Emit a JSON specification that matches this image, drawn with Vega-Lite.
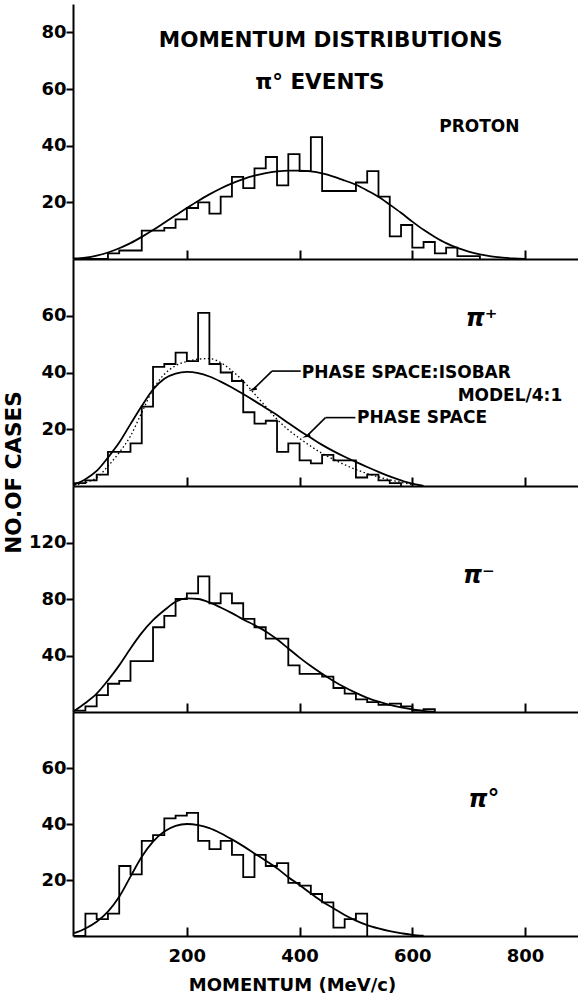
{
  "$schema": "https://vega.github.io/schema/vega-lite/v6.json",
  "padding": {"left": 3, "top": 4, "right": 0, "bottom": 0},
  "spacing": 0,
  "bounds": "flush",
  "datasets": {
    "hist": [
      {"panel": "proton", "p": 0, "n": 0}, {"panel": "proton", "p": 20, "n": 0}, {"panel": "proton", "p": 40, "n": 0},
      {"panel": "proton", "p": 60, "n": 2}, {"panel": "proton", "p": 80, "n": 3}, {"panel": "proton", "p": 100, "n": 3},
      {"panel": "proton", "p": 120, "n": 10}, {"panel": "proton", "p": 140, "n": 10}, {"panel": "proton", "p": 160, "n": 11},
      {"panel": "proton", "p": 180, "n": 14}, {"panel": "proton", "p": 200, "n": 18}, {"panel": "proton", "p": 220, "n": 20},
      {"panel": "proton", "p": 240, "n": 16}, {"panel": "proton", "p": 260, "n": 22}, {"panel": "proton", "p": 280, "n": 29},
      {"panel": "proton", "p": 300, "n": 25}, {"panel": "proton", "p": 320, "n": 32}, {"panel": "proton", "p": 340, "n": 36},
      {"panel": "proton", "p": 360, "n": 26}, {"panel": "proton", "p": 380, "n": 37}, {"panel": "proton", "p": 400, "n": 31},
      {"panel": "proton", "p": 420, "n": 43}, {"panel": "proton", "p": 440, "n": 24}, {"panel": "proton", "p": 460, "n": 24},
      {"panel": "proton", "p": 480, "n": 24}, {"panel": "proton", "p": 500, "n": 27}, {"panel": "proton", "p": 520, "n": 31},
      {"panel": "proton", "p": 540, "n": 22}, {"panel": "proton", "p": 560, "n": 8}, {"panel": "proton", "p": 580, "n": 12},
      {"panel": "proton", "p": 600, "n": 4}, {"panel": "proton", "p": 620, "n": 6}, {"panel": "proton", "p": 640, "n": 2},
      {"panel": "proton", "p": 660, "n": 4}, {"panel": "proton", "p": 680, "n": 1}, {"panel": "proton", "p": 700, "n": 1},
      {"panel": "proton", "p": 720, "n": 0},

      {"panel": "piplus", "p": 0, "n": 1}, {"panel": "piplus", "p": 20, "n": 2}, {"panel": "piplus", "p": 40, "n": 4},
      {"panel": "piplus", "p": 60, "n": 12}, {"panel": "piplus", "p": 80, "n": 12}, {"panel": "piplus", "p": 100, "n": 15},
      {"panel": "piplus", "p": 120, "n": 28}, {"panel": "piplus", "p": 140, "n": 42}, {"panel": "piplus", "p": 160, "n": 43},
      {"panel": "piplus", "p": 180, "n": 47}, {"panel": "piplus", "p": 200, "n": 44}, {"panel": "piplus", "p": 220, "n": 61},
      {"panel": "piplus", "p": 240, "n": 43}, {"panel": "piplus", "p": 260, "n": 40}, {"panel": "piplus", "p": 280, "n": 37},
      {"panel": "piplus", "p": 300, "n": 26}, {"panel": "piplus", "p": 320, "n": 22}, {"panel": "piplus", "p": 340, "n": 23},
      {"panel": "piplus", "p": 360, "n": 12}, {"panel": "piplus", "p": 380, "n": 15}, {"panel": "piplus", "p": 400, "n": 9},
      {"panel": "piplus", "p": 420, "n": 8}, {"panel": "piplus", "p": 440, "n": 11}, {"panel": "piplus", "p": 460, "n": 9},
      {"panel": "piplus", "p": 480, "n": 9}, {"panel": "piplus", "p": 500, "n": 3}, {"panel": "piplus", "p": 520, "n": 4},
      {"panel": "piplus", "p": 540, "n": 2}, {"panel": "piplus", "p": 560, "n": 1}, {"panel": "piplus", "p": 580, "n": 0},

      {"panel": "piminus", "p": 0, "n": 1}, {"panel": "piminus", "p": 20, "n": 4}, {"panel": "piminus", "p": 40, "n": 12},
      {"panel": "piminus", "p": 60, "n": 20}, {"panel": "piminus", "p": 80, "n": 22}, {"panel": "piminus", "p": 100, "n": 36},
      {"panel": "piminus", "p": 120, "n": 36}, {"panel": "piminus", "p": 140, "n": 60}, {"panel": "piminus", "p": 160, "n": 68},
      {"panel": "piminus", "p": 180, "n": 80}, {"panel": "piminus", "p": 200, "n": 84}, {"panel": "piminus", "p": 220, "n": 96},
      {"panel": "piminus", "p": 240, "n": 77}, {"panel": "piminus", "p": 260, "n": 84}, {"panel": "piminus", "p": 280, "n": 77},
      {"panel": "piminus", "p": 300, "n": 66}, {"panel": "piminus", "p": 320, "n": 60}, {"panel": "piminus", "p": 340, "n": 52},
      {"panel": "piminus", "p": 360, "n": 52}, {"panel": "piminus", "p": 380, "n": 33}, {"panel": "piminus", "p": 400, "n": 27},
      {"panel": "piminus", "p": 420, "n": 27}, {"panel": "piminus", "p": 440, "n": 25}, {"panel": "piminus", "p": 460, "n": 17},
      {"panel": "piminus", "p": 480, "n": 13}, {"panel": "piminus", "p": 500, "n": 9}, {"panel": "piminus", "p": 520, "n": 7},
      {"panel": "piminus", "p": 540, "n": 5}, {"panel": "piminus", "p": 560, "n": 6}, {"panel": "piminus", "p": 580, "n": 4},
      {"panel": "piminus", "p": 600, "n": 1}, {"panel": "piminus", "p": 620, "n": 2}, {"panel": "piminus", "p": 640, "n": 0},

      {"panel": "pizero", "p": 0, "n": 0}, {"panel": "pizero", "p": 20, "n": 8}, {"panel": "pizero", "p": 40, "n": 6},
      {"panel": "pizero", "p": 60, "n": 8}, {"panel": "pizero", "p": 80, "n": 25}, {"panel": "pizero", "p": 100, "n": 22},
      {"panel": "pizero", "p": 120, "n": 34}, {"panel": "pizero", "p": 140, "n": 36}, {"panel": "pizero", "p": 160, "n": 42},
      {"panel": "pizero", "p": 180, "n": 43}, {"panel": "pizero", "p": 200, "n": 44}, {"panel": "pizero", "p": 220, "n": 34},
      {"panel": "pizero", "p": 240, "n": 31}, {"panel": "pizero", "p": 260, "n": 34}, {"panel": "pizero", "p": 280, "n": 29},
      {"panel": "pizero", "p": 300, "n": 21}, {"panel": "pizero", "p": 320, "n": 29}, {"panel": "pizero", "p": 340, "n": 25},
      {"panel": "pizero", "p": 360, "n": 26}, {"panel": "pizero", "p": 380, "n": 19}, {"panel": "pizero", "p": 400, "n": 18},
      {"panel": "pizero", "p": 420, "n": 15}, {"panel": "pizero", "p": 440, "n": 12}, {"panel": "pizero", "p": 460, "n": 3},
      {"panel": "pizero", "p": 480, "n": 6}, {"panel": "pizero", "p": 500, "n": 8}, {"panel": "pizero", "p": 520, "n": 0}
    ],
    "curve": [
      {"panel": "proton", "model": "phase", "p": 0, "n": 0.2}, {"panel": "proton", "model": "phase", "p": 20, "n": 0.5},
      {"panel": "proton", "model": "phase", "p": 40, "n": 1.2}, {"panel": "proton", "model": "phase", "p": 60, "n": 2.3},
      {"panel": "proton", "model": "phase", "p": 80, "n": 3.8}, {"panel": "proton", "model": "phase", "p": 100, "n": 5.6},
      {"panel": "proton", "model": "phase", "p": 120, "n": 7.8}, {"panel": "proton", "model": "phase", "p": 140, "n": 10.2},
      {"panel": "proton", "model": "phase", "p": 160, "n": 12.8}, {"panel": "proton", "model": "phase", "p": 180, "n": 15.4},
      {"panel": "proton", "model": "phase", "p": 200, "n": 18}, {"panel": "proton", "model": "phase", "p": 220, "n": 20.5},
      {"panel": "proton", "model": "phase", "p": 240, "n": 22.8}, {"panel": "proton", "model": "phase", "p": 260, "n": 24.9},
      {"panel": "proton", "model": "phase", "p": 280, "n": 26.7}, {"panel": "proton", "model": "phase", "p": 300, "n": 28.2},
      {"panel": "proton", "model": "phase", "p": 320, "n": 29.4}, {"panel": "proton", "model": "phase", "p": 340, "n": 30.3},
      {"panel": "proton", "model": "phase", "p": 360, "n": 30.9}, {"panel": "proton", "model": "phase", "p": 380, "n": 31.2},
      {"panel": "proton", "model": "phase", "p": 400, "n": 31.2}, {"panel": "proton", "model": "phase", "p": 420, "n": 30.9},
      {"panel": "proton", "model": "phase", "p": 440, "n": 30.2}, {"panel": "proton", "model": "phase", "p": 460, "n": 29.1},
      {"panel": "proton", "model": "phase", "p": 480, "n": 27.7}, {"panel": "proton", "model": "phase", "p": 500, "n": 26.2},
      {"panel": "proton", "model": "phase", "p": 520, "n": 24.2}, {"panel": "proton", "model": "phase", "p": 540, "n": 22},
      {"panel": "proton", "model": "phase", "p": 560, "n": 19.2}, {"panel": "proton", "model": "phase", "p": 580, "n": 16.3},
      {"panel": "proton", "model": "phase", "p": 600, "n": 13.2}, {"panel": "proton", "model": "phase", "p": 620, "n": 10.3},
      {"panel": "proton", "model": "phase", "p": 640, "n": 7.8}, {"panel": "proton", "model": "phase", "p": 660, "n": 5.6},
      {"panel": "proton", "model": "phase", "p": 680, "n": 3.9}, {"panel": "proton", "model": "phase", "p": 700, "n": 2.6},
      {"panel": "proton", "model": "phase", "p": 720, "n": 1.6}, {"panel": "proton", "model": "phase", "p": 740, "n": 0.9},
      {"panel": "proton", "model": "phase", "p": 760, "n": 0.5}, {"panel": "proton", "model": "phase", "p": 780, "n": 0.2},
      {"panel": "proton", "model": "phase", "p": 800, "n": 0},

      {"panel": "piplus", "model": "phase", "p": 0, "n": 0.5}, {"panel": "piplus", "model": "phase", "p": 20, "n": 2.4},
      {"panel": "piplus", "model": "phase", "p": 40, "n": 5.3}, {"panel": "piplus", "model": "phase", "p": 60, "n": 10},
      {"panel": "piplus", "model": "phase", "p": 80, "n": 15.3}, {"panel": "piplus", "model": "phase", "p": 100, "n": 21.8},
      {"panel": "piplus", "model": "phase", "p": 120, "n": 28.2}, {"panel": "piplus", "model": "phase", "p": 140, "n": 34},
      {"panel": "piplus", "model": "phase", "p": 160, "n": 37.8}, {"panel": "piplus", "model": "phase", "p": 180, "n": 39.6},
      {"panel": "piplus", "model": "phase", "p": 200, "n": 40.2}, {"panel": "piplus", "model": "phase", "p": 220, "n": 39.8},
      {"panel": "piplus", "model": "phase", "p": 240, "n": 38.6}, {"panel": "piplus", "model": "phase", "p": 260, "n": 36.8},
      {"panel": "piplus", "model": "phase", "p": 280, "n": 34.7}, {"panel": "piplus", "model": "phase", "p": 300, "n": 32.4},
      {"panel": "piplus", "model": "phase", "p": 320, "n": 30}, {"panel": "piplus", "model": "phase", "p": 340, "n": 27.5},
      {"panel": "piplus", "model": "phase", "p": 360, "n": 25}, {"panel": "piplus", "model": "phase", "p": 380, "n": 22.2},
      {"panel": "piplus", "model": "phase", "p": 400, "n": 19.5}, {"panel": "piplus", "model": "phase", "p": 420, "n": 17},
      {"panel": "piplus", "model": "phase", "p": 440, "n": 14.5}, {"panel": "piplus", "model": "phase", "p": 460, "n": 12.3},
      {"panel": "piplus", "model": "phase", "p": 480, "n": 10.3}, {"panel": "piplus", "model": "phase", "p": 500, "n": 8.5},
      {"panel": "piplus", "model": "phase", "p": 520, "n": 6.7}, {"panel": "piplus", "model": "phase", "p": 540, "n": 5},
      {"panel": "piplus", "model": "phase", "p": 560, "n": 3.4}, {"panel": "piplus", "model": "phase", "p": 580, "n": 2},
      {"panel": "piplus", "model": "phase", "p": 600, "n": 0.8}, {"panel": "piplus", "model": "phase", "p": 620, "n": 0},

      {"panel": "piplus", "model": "isobar", "p": 0, "n": 0.3}, {"panel": "piplus", "model": "isobar", "p": 20, "n": 1.2},
      {"panel": "piplus", "model": "isobar", "p": 40, "n": 2.9}, {"panel": "piplus", "model": "isobar", "p": 60, "n": 7},
      {"panel": "piplus", "model": "isobar", "p": 80, "n": 11.8}, {"panel": "piplus", "model": "isobar", "p": 100, "n": 17.6},
      {"panel": "piplus", "model": "isobar", "p": 120, "n": 25.9}, {"panel": "piplus", "model": "isobar", "p": 140, "n": 34},
      {"panel": "piplus", "model": "isobar", "p": 160, "n": 39.4}, {"panel": "piplus", "model": "isobar", "p": 180, "n": 42.4},
      {"panel": "piplus", "model": "isobar", "p": 200, "n": 43.9}, {"panel": "piplus", "model": "isobar", "p": 220, "n": 44.7},
      {"panel": "piplus", "model": "isobar", "p": 240, "n": 44.9}, {"panel": "piplus", "model": "isobar", "p": 260, "n": 43.5},
      {"panel": "piplus", "model": "isobar", "p": 280, "n": 40.6}, {"panel": "piplus", "model": "isobar", "p": 300, "n": 37},
      {"panel": "piplus", "model": "isobar", "p": 320, "n": 32.5}, {"panel": "piplus", "model": "isobar", "p": 340, "n": 28},
      {"panel": "piplus", "model": "isobar", "p": 360, "n": 23.5}, {"panel": "piplus", "model": "isobar", "p": 380, "n": 19.8},
      {"panel": "piplus", "model": "isobar", "p": 400, "n": 16.8}, {"panel": "piplus", "model": "isobar", "p": 420, "n": 14},
      {"panel": "piplus", "model": "isobar", "p": 440, "n": 11.5}, {"panel": "piplus", "model": "isobar", "p": 460, "n": 9.4},
      {"panel": "piplus", "model": "isobar", "p": 480, "n": 7.5}, {"panel": "piplus", "model": "isobar", "p": 500, "n": 5.8},
      {"panel": "piplus", "model": "isobar", "p": 520, "n": 4.4}, {"panel": "piplus", "model": "isobar", "p": 540, "n": 3.2},
      {"panel": "piplus", "model": "isobar", "p": 560, "n": 2.2}, {"panel": "piplus", "model": "isobar", "p": 580, "n": 1.3},
      {"panel": "piplus", "model": "isobar", "p": 600, "n": 0.5},

      {"panel": "piminus", "model": "phase", "p": 0, "n": 0.7}, {"panel": "piminus", "model": "phase", "p": 20, "n": 6.4},
      {"panel": "piminus", "model": "phase", "p": 40, "n": 13}, {"panel": "piminus", "model": "phase", "p": 60, "n": 22.4},
      {"panel": "piminus", "model": "phase", "p": 80, "n": 33}, {"panel": "piminus", "model": "phase", "p": 100, "n": 45},
      {"panel": "piminus", "model": "phase", "p": 120, "n": 56}, {"panel": "piminus", "model": "phase", "p": 140, "n": 65},
      {"panel": "piminus", "model": "phase", "p": 160, "n": 72}, {"panel": "piminus", "model": "phase", "p": 180, "n": 78},
      {"panel": "piminus", "model": "phase", "p": 200, "n": 80.5}, {"panel": "piminus", "model": "phase", "p": 220, "n": 80},
      {"panel": "piminus", "model": "phase", "p": 240, "n": 77.6}, {"panel": "piminus", "model": "phase", "p": 260, "n": 74},
      {"panel": "piminus", "model": "phase", "p": 280, "n": 70}, {"panel": "piminus", "model": "phase", "p": 300, "n": 65.5},
      {"panel": "piminus", "model": "phase", "p": 320, "n": 61.5}, {"panel": "piminus", "model": "phase", "p": 340, "n": 57},
      {"panel": "piminus", "model": "phase", "p": 360, "n": 51.5}, {"panel": "piminus", "model": "phase", "p": 380, "n": 45},
      {"panel": "piminus", "model": "phase", "p": 400, "n": 38.5}, {"panel": "piminus", "model": "phase", "p": 420, "n": 32.5},
      {"panel": "piminus", "model": "phase", "p": 440, "n": 27}, {"panel": "piminus", "model": "phase", "p": 460, "n": 22},
      {"panel": "piminus", "model": "phase", "p": 480, "n": 17.5}, {"panel": "piminus", "model": "phase", "p": 500, "n": 13.5},
      {"panel": "piminus", "model": "phase", "p": 520, "n": 10}, {"panel": "piminus", "model": "phase", "p": 540, "n": 7.3},
      {"panel": "piminus", "model": "phase", "p": 560, "n": 5}, {"panel": "piminus", "model": "phase", "p": 580, "n": 3.2},
      {"panel": "piminus", "model": "phase", "p": 600, "n": 1.8}, {"panel": "piminus", "model": "phase", "p": 620, "n": 0.8},
      {"panel": "piminus", "model": "phase", "p": 640, "n": 0.2},

      {"panel": "pizero", "model": "phase", "p": 0, "n": 1}, {"panel": "pizero", "model": "phase", "p": 20, "n": 2.7},
      {"panel": "pizero", "model": "phase", "p": 40, "n": 5.1}, {"panel": "pizero", "model": "phase", "p": 60, "n": 8.7},
      {"panel": "pizero", "model": "phase", "p": 80, "n": 14}, {"panel": "pizero", "model": "phase", "p": 100, "n": 21.2},
      {"panel": "pizero", "model": "phase", "p": 120, "n": 28.3}, {"panel": "pizero", "model": "phase", "p": 140, "n": 33.7},
      {"panel": "pizero", "model": "phase", "p": 160, "n": 37.3}, {"panel": "pizero", "model": "phase", "p": 180, "n": 39.3},
      {"panel": "pizero", "model": "phase", "p": 200, "n": 40}, {"panel": "pizero", "model": "phase", "p": 220, "n": 39.6},
      {"panel": "pizero", "model": "phase", "p": 240, "n": 38.5}, {"panel": "pizero", "model": "phase", "p": 260, "n": 36.7},
      {"panel": "pizero", "model": "phase", "p": 280, "n": 34.5}, {"panel": "pizero", "model": "phase", "p": 300, "n": 32.1},
      {"panel": "pizero", "model": "phase", "p": 320, "n": 29.5}, {"panel": "pizero", "model": "phase", "p": 340, "n": 26.9},
      {"panel": "pizero", "model": "phase", "p": 360, "n": 24.2}, {"panel": "pizero", "model": "phase", "p": 380, "n": 21},
      {"panel": "pizero", "model": "phase", "p": 400, "n": 18.2}, {"panel": "pizero", "model": "phase", "p": 420, "n": 15.2},
      {"panel": "pizero", "model": "phase", "p": 440, "n": 12.3}, {"panel": "pizero", "model": "phase", "p": 460, "n": 9.9},
      {"panel": "pizero", "model": "phase", "p": 480, "n": 7.5}, {"panel": "pizero", "model": "phase", "p": 500, "n": 5.5},
      {"panel": "pizero", "model": "phase", "p": 520, "n": 3.9}, {"panel": "pizero", "model": "phase", "p": 540, "n": 2.7},
      {"panel": "pizero", "model": "phase", "p": 560, "n": 1.7}, {"panel": "pizero", "model": "phase", "p": 580, "n": 1},
      {"panel": "pizero", "model": "phase", "p": 600, "n": 0.4}, {"panel": "pizero", "model": "phase", "p": 620, "n": 0.1}
    ],
    "notes": [
      {"panel": "proton", "kind": "title", "label": "MOMENTUM DISTRIBUTIONS", "p": 455, "n": 77},
      {"panel": "proton", "kind": "title", "label": "π° EVENTS", "p": 436, "n": 62},
      {"panel": "proton", "kind": "name", "label": "PROTON", "p": 719, "n": 46.7},
      {"panel": "piplus", "kind": "pion", "label": "π⁺", "p": 723, "n": 58.8},
      {"panel": "piminus", "kind": "pion", "label": "π⁻", "p": 718, "n": 96.5},
      {"panel": "pizero", "kind": "pion", "label": "π°", "p": 727, "n": 48.6},
      {"panel": "piplus", "kind": "lead", "label": "PHASE SPACE:ISOBAR", "p": 404, "n": 39.8},
      {"panel": "piplus", "kind": "lead", "label": "PHASE SPACE", "p": 502, "n": 23.8},
      {"panel": "piplus", "kind": "tail", "label": "MODEL/4:1", "p": 866, "n": 31.8}
    ],
    "arrows": [
      {"p": 351, "n": 40.5, "p2": 402, "n2": 40.5},
      {"p": 320, "n": 34.5, "p2": 351, "n2": 40.5},
      {"p": 446, "n": 24.1, "p2": 499, "n2": 24.1},
      {"p": 415, "n": 18, "p2": 446, "n2": 24.1}
    ],
    "heads": [
      {"p": 318, "n": 34.1},
      {"p": 413, "n": 17.6}
    ]
  },
  "vconcat": [
    {
      "width": 505, "height": 255,
      "layer": [
        {
          "data": {"name": "hist"},
          "transform": [{"filter": "datum.panel == 'proton'"}],
          "mark": {"type": "line", "interpolate": "step-after", "color": "black", "strokeWidth": 1.8},
          "encoding": {
            "x": {"field": "p", "type": "quantitative", "scale": {"domain": [-2, 894], "nice": false, "zero": false},
                  "axis": {"values": [200, 400, 600, 800], "labels": false, "title": null, "tickSize": -9}},
            "y": {"field": "n", "type": "quantitative", "scale": {"domain": [0, 90], "nice": false},
                  "axis": {"values": [20, 40, 60, 80], "title": null}}
          }
        },
        {
          "data": {"name": "curve"},
          "transform": [{"filter": "datum.panel == 'proton'"}],
          "mark": {"type": "line", "interpolate": "monotone", "color": "black", "strokeWidth": 1.8},
          "encoding": {"x": {"field": "p", "type": "quantitative"}, "y": {"field": "n", "type": "quantitative"}}
        },
        {
          "mark": {"type": "rule", "color": "black", "strokeWidth": 2},
          "encoding": {"y": {"datum": 90}}
        },
        {
          "data": {"name": "notes"},
          "transform": [{"filter": "datum.panel == 'proton' && datum.kind == 'title'"}],
          "mark": {"type": "text", "fontSize": 21.5, "align": "center", "baseline": "middle"},
          "encoding": {"x": {"field": "p", "type": "quantitative"}, "y": {"field": "n", "type": "quantitative"}, "text": {"field": "label"}}
        },
        {
          "data": {"name": "notes"},
          "transform": [{"filter": "datum.panel == 'proton' && datum.kind == 'name'"}],
          "mark": {"type": "text", "fontSize": 17, "align": "center", "baseline": "middle"},
          "encoding": {"x": {"field": "p", "type": "quantitative"}, "y": {"field": "n", "type": "quantitative"}, "text": {"field": "label"}}
        }
      ]
    },
    {
      "width": 505, "height": 227,
      "layer": [
        {
          "data": {"name": "hist"},
          "transform": [{"filter": "datum.panel == 'piplus'"}],
          "mark": {"type": "line", "interpolate": "step-after", "color": "black", "strokeWidth": 1.8},
          "encoding": {
            "x": {"field": "p", "type": "quantitative", "scale": {"domain": [-2, 894], "nice": false, "zero": false},
                  "axis": {"values": [200, 400, 600, 800], "labels": false, "title": null, "tickSize": -9}},
            "y": {"field": "n", "type": "quantitative", "scale": {"domain": [0, 80], "nice": false},
                  "axis": {"values": [20, 40, 60], "title": "NO.OF CASES", "titleFontSize": 21.5, "titleX": -59, "titleY": 213, "titleAlign": "center", "titleBaseline": "middle", "titleAngle": -90}}
          }
        },
        {
          "data": {"name": "curve"},
          "transform": [{"filter": "datum.panel == 'piplus' && datum.model == 'phase'"}],
          "mark": {"type": "line", "interpolate": "monotone", "color": "black", "strokeWidth": 1.8},
          "encoding": {"x": {"field": "p", "type": "quantitative"}, "y": {"field": "n", "type": "quantitative"}}
        },
        {
          "data": {"name": "curve"},
          "transform": [{"filter": "datum.panel == 'piplus' && datum.model == 'isobar'"}],
          "mark": {"type": "line", "interpolate": "monotone", "color": "black", "strokeWidth": 1.3, "strokeDash": [1.5, 2.5]},
          "encoding": {"x": {"field": "p", "type": "quantitative"}, "y": {"field": "n", "type": "quantitative"}}
        },
        {
          "data": {"name": "arrows"},
          "mark": {"type": "rule", "color": "black", "strokeWidth": 1.6},
          "encoding": {"x": {"field": "p", "type": "quantitative"}, "y": {"field": "n", "type": "quantitative"},
                       "x2": {"field": "p2"}, "y2": {"field": "n2"}}
        },
        {
          "data": {"name": "heads"},
          "mark": {"type": "point", "filled": true, "color": "black", "opacity": 1, "shape": "M0,-1.2L0.45,0.8L-0.45,0.8Z", "size": 70, "angle": 249},
          "encoding": {"x": {"field": "p", "type": "quantitative"}, "y": {"field": "n", "type": "quantitative"}}
        },
        {
          "data": {"name": "notes"},
          "transform": [{"filter": "datum.panel == 'piplus' && datum.kind == 'pion'"}],
          "mark": {"type": "text", "fontSize": 24, "fontStyle": "italic", "align": "center", "baseline": "middle"},
          "encoding": {"x": {"field": "p", "type": "quantitative"}, "y": {"field": "n", "type": "quantitative"}, "text": {"field": "label"}}
        },
        {
          "data": {"name": "notes"},
          "transform": [{"filter": "datum.panel == 'piplus' && datum.kind == 'lead'"}],
          "mark": {"type": "text", "fontSize": 17, "align": "left", "baseline": "middle"},
          "encoding": {"x": {"field": "p", "type": "quantitative"}, "y": {"field": "n", "type": "quantitative"}, "text": {"field": "label"}}
        },
        {
          "data": {"name": "notes"},
          "transform": [{"filter": "datum.panel == 'piplus' && datum.kind == 'tail'"}],
          "mark": {"type": "text", "fontSize": 17, "align": "right", "baseline": "middle"},
          "encoding": {"x": {"field": "p", "type": "quantitative"}, "y": {"field": "n", "type": "quantitative"}, "text": {"field": "label"}}
        }
      ]
    },
    {
      "width": 505, "height": 226,
      "layer": [
        {
          "data": {"name": "hist"},
          "transform": [{"filter": "datum.panel == 'piminus'"}],
          "mark": {"type": "line", "interpolate": "step-after", "color": "black", "strokeWidth": 1.8},
          "encoding": {
            "x": {"field": "p", "type": "quantitative", "scale": {"domain": [-2, 894], "nice": false, "zero": false},
                  "axis": {"values": [200, 400, 600, 800], "labels": false, "title": null, "tickSize": -9}},
            "y": {"field": "n", "type": "quantitative", "scale": {"domain": [0, 160], "nice": false},
                  "axis": {"values": [40, 80, 120], "title": null}}
          }
        },
        {
          "data": {"name": "curve"},
          "transform": [{"filter": "datum.panel == 'piminus'"}],
          "mark": {"type": "line", "interpolate": "monotone", "color": "black", "strokeWidth": 1.8},
          "encoding": {"x": {"field": "p", "type": "quantitative"}, "y": {"field": "n", "type": "quantitative"}}
        },
        {
          "data": {"name": "notes"},
          "transform": [{"filter": "datum.panel == 'piminus' && datum.kind == 'pion'"}],
          "mark": {"type": "text", "fontSize": 24, "fontStyle": "italic", "align": "center", "baseline": "middle"},
          "encoding": {"x": {"field": "p", "type": "quantitative"}, "y": {"field": "n", "type": "quantitative"}, "text": {"field": "label"}}
        }
      ]
    },
    {
      "width": 505, "height": 224,
      "layer": [
        {
          "data": {"name": "hist"},
          "transform": [{"filter": "datum.panel == 'pizero'"}],
          "mark": {"type": "line", "interpolate": "step-after", "color": "black", "strokeWidth": 1.8},
          "encoding": {
            "x": {"field": "p", "type": "quantitative", "scale": {"domain": [-2, 894], "nice": false, "zero": false},
                  "axis": {"values": [200, 400, 600, 800], "tickSize": -9, "labelPadding": 20, "labelFontSize": 18,
                           "title": "MOMENTUM (MeV/c)", "titleFontSize": 18, "titleX": 219, "titleY": 54,
                           "titleAlign": "center", "titleBaseline": "alphabetic", "titleAnchor": null}},
            "y": {"field": "n", "type": "quantitative", "scale": {"domain": [0, 80], "nice": false},
                  "axis": {"values": [20, 40, 60], "title": null}}
          }
        },
        {
          "data": {"name": "curve"},
          "transform": [{"filter": "datum.panel == 'pizero'"}],
          "mark": {"type": "line", "interpolate": "monotone", "color": "black", "strokeWidth": 1.8},
          "encoding": {"x": {"field": "p", "type": "quantitative"}, "y": {"field": "n", "type": "quantitative"}}
        },
        {
          "data": {"name": "notes"},
          "transform": [{"filter": "datum.panel == 'pizero' && datum.kind == 'pion'"}],
          "mark": {"type": "text", "fontSize": 24, "fontStyle": "italic", "align": "center", "baseline": "middle"},
          "encoding": {"x": {"field": "p", "type": "quantitative"}, "y": {"field": "n", "type": "quantitative"}, "text": {"field": "label"}}
        }
      ]
    }
  ],
  "config": {
    "view": {"stroke": null},
    "font": "DejaVu Sans",
    "axis": {
      "grid": false,
      "domainColor": "black", "domainWidth": 2,
      "tickColor": "black", "tickWidth": 2, "tickSize": 7,
      "labelColor": "black", "labelFont": "DejaVu Sans", "labelFontWeight": "bold", "labelFontSize": 18, "labelPadding": 0,
      "titleColor": "black", "titleFont": "DejaVu Sans", "titleFontWeight": "bold"
    },
    "text": {"color": "black", "font": "DejaVu Sans", "fontWeight": "bold"}
  }
}
